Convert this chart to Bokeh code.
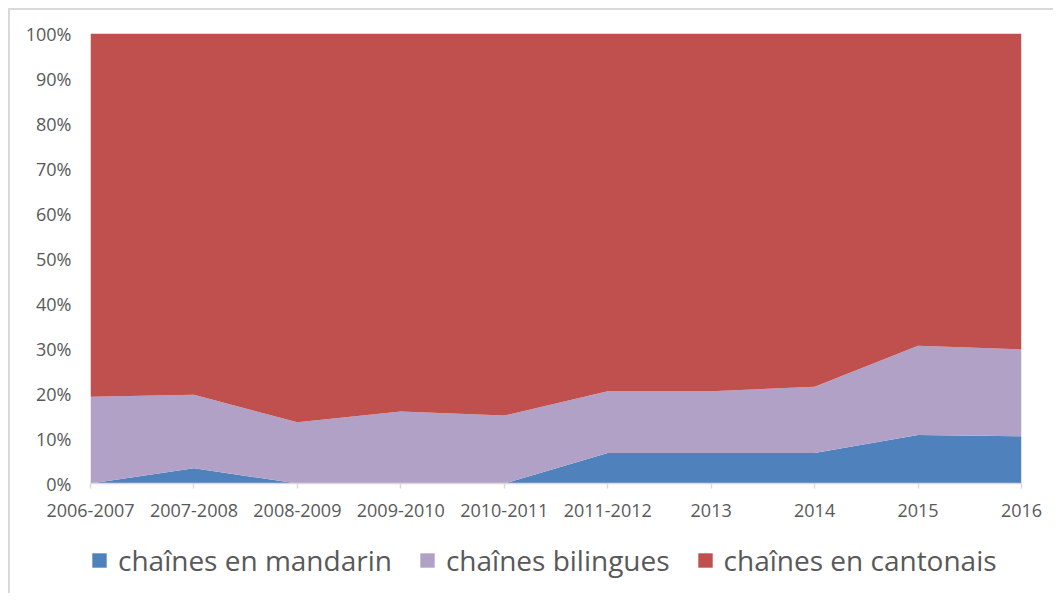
from bokeh.plotting import figure
from bokeh.layouts import column
from bokeh.models import Legend, LegendItem, Range1d, FixedTicker, ColumnDataSource
from bokeh.embed import file_html
from bokeh.resources import INLINE

periods = ["2006-2007", "2007-2008", "2008-2009", "2009-2010", "2010-2011",
           "2011-2012", "2013", "2014", "2015", "2016"]
mandarin = [0.0, 3.4, 0.0, 0.0, 0.0, 6.8, 6.8, 6.8, 10.8, 10.5]
bilingues = [19.3, 16.3, 13.6, 16.0, 15.1, 13.7, 13.7, 14.7, 19.8, 19.3]
cantonais = [round(100 - m - b, 2) for m, b in zip(mandarin, bilingues)]
series_names = ["chaînes en mandarin", "chaînes bilingues", "chaînes en cantonais"]
colors = ["#4f81bd", "#b2a1c7", "#c0504d"]
stack_keys = ["mandarin", "bilingues", "cantonais"]

x = list(range(len(periods)))
source = ColumnDataSource(dict(x=x, mandarin=mandarin, bilingues=bilingues, cantonais=cantonais))

FONT = "Open Sans"
GREY = "#595959"

p = figure(width=1043, height=518, output_backend="svg", toolbar_location=None,
           x_range=Range1d(0, len(periods) - 1), y_range=Range1d(0, 100),
           min_border_left=80, min_border_right=32, min_border_top=23, min_border_bottom=45)

p.varea_stack(stack_keys, x="x", source=source, color=colors)

p.xgrid.visible = False
p.ygrid.visible = False
p.outline_line_color = None

p.xaxis.ticker = FixedTicker(ticks=x)
p.xaxis.major_label_overrides = {i: s for i, s in enumerate(periods)}
p.xaxis.axis_line_color = "#d9d9d9"
p.xaxis.axis_line_width = 1.5
p.xaxis.major_tick_line_color = "#d9d9d9"
p.xaxis.major_tick_line_width = 1.5
p.xaxis.major_tick_in = 0
p.xaxis.major_tick_out = 5
p.xaxis.minor_tick_line_color = None
p.xaxis.major_label_text_font = FONT
p.xaxis.major_label_text_font_size = "18px"
p.xaxis.major_label_text_color = GREY
p.xaxis.major_label_standoff = 15

p.yaxis.ticker = FixedTicker(ticks=list(range(0, 101, 10)))
p.yaxis.major_label_overrides = {v: f"{v}%" for v in range(0, 101, 10)}
p.yaxis.axis_line_color = None
p.yaxis.major_tick_line_color = None
p.yaxis.minor_tick_line_color = None
p.yaxis.major_label_text_font = FONT
p.yaxis.major_label_text_font_size = "18px"
p.yaxis.major_label_text_color = GREY
p.yaxis.major_label_standoff = 13

# legend strip below the chart (its own small figure, renderers kept out of view)
leg = figure(width=1043, height=65, output_backend="svg", toolbar_location=None,
             x_range=Range1d(100, 101), y_range=Range1d(100, 101),
             x_axis_location=None, y_axis_location=None, min_border=0)
leg.xgrid.visible = False
leg.ygrid.visible = False
leg.outline_line_color = None
lrs = leg.varea_stack(stack_keys, x="x", source=source, color=colors)

legend = Legend(items=[LegendItem(label=n, renderers=[r]) for n, r in zip(series_names, lrs)],
                orientation="horizontal", location=(0, 14),
                label_text_font=FONT, label_text_font_size="28px", label_text_color=GREY,
                glyph_width=18, glyph_height=18, label_standoff=10, spacing=26,
                border_line_color=None, background_fill_alpha=0, margin=0, padding=0)
leg.add_layout(legend, "center")

layout = column(p, leg, spacing=0)
layout.styles = {"margin-left": "8px", "margin-top": "8px",
                 "border-left": "2px solid #d9d9d9", "border-top": "2px solid #d9d9d9"}
open("out.html", "w").write(file_html(layout, INLINE))
